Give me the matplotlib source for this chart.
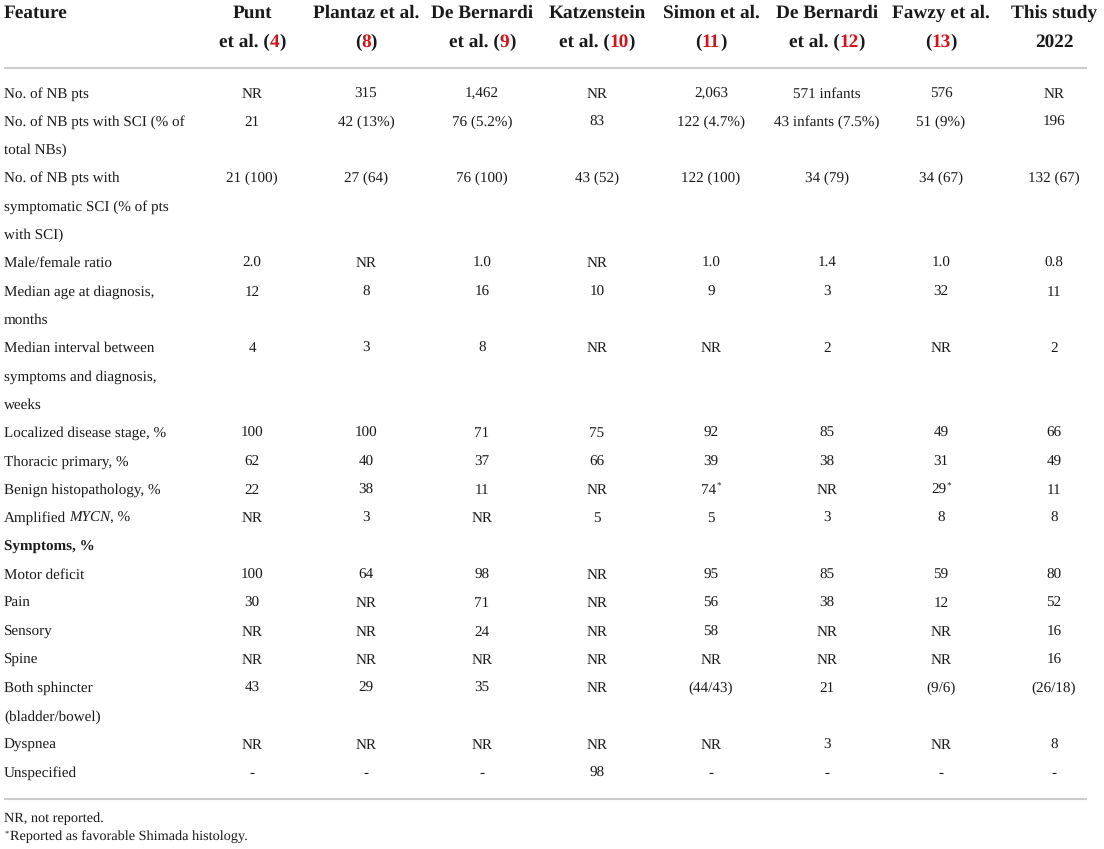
import matplotlib
matplotlib.use("Agg")
import matplotlib.pyplot as plt

plt.rcParams["text.hinting"] = "no_hinting"

# table content
col_heads = [
    ("Punt", "et al. (", "4", ")"),
    ("Plantaz et al.", "(", "8", ")"),
    ("De Bernardi", "et al. (", "9", ")"),
    ("Katzenstein", "et al. (", "10", ")"),
    ("Simon et al.", "(", "11", ")"),
    ("De Bernardi", "et al. (", "12", ")"),
    ("Fawzy et al.", "(", "13", ")"),
    ("This study", "2022", "", ""),
]

# each feature: list of wrapped lines for the first column
features = [
    ["No. of NB pts"],
    ["No. of NB pts with SCI (% of", "total NBs)"],
    ["No. of NB pts with", "symptomatic SCI (% of pts", "with SCI)"],
    ["Male/female ratio"],
    ["Median age at diagnosis,", "months"],
    ["Median interval between", "symptoms and diagnosis,", "weeks"],
    ["Localized disease stage, %"],
    ["Thoracic primary, %"],
    ["Benign histopathology, %"],
    ["Amplified |MYCN|, %"],
    ["#Symptoms, %"],
    ["Motor deficit"],
    ["Pain"],
    ["Sensory"],
    ["Spine"],
    ["Both sphincter", "(bladder/bowel)"],
    ["Dyspnea"],
    ["Unspecified"],
]

punt      = ["NR", "21", "21 (100)", "2.0", "12", "4", "100", "62", "22", "NR", "", "100", "30", "NR", "NR", "43", "NR", "-"]
plantaz   = ["315", "42 (13%)", "27 (64)", "NR", "8", "3", "100", "40", "38", "3", "", "64", "NR", "NR", "NR", "29", "NR", "-"]
debern9   = ["1,462", "76 (5.2%)", "76 (100)", "1.0", "16", "8", "71", "37", "11", "NR", "", "98", "71", "24", "NR", "35", "NR", "-"]
katzen    = ["NR", "83", "43 (52)", "NR", "10", "NR", "75", "66", "NR", "5", "", "NR", "NR", "NR", "NR", "NR", "NR", "98"]
simon     = ["2,063", "122 (4.7%)", "122 (100)", "1.0", "9", "NR", "92", "39", "74*", "5", "", "95", "56", "58", "NR", "(44/43)", "NR", "-"]
debern12  = ["571 infants", "43 infants (7.5%)", "34 (79)", "1.4", "3", "2", "85", "38", "NR", "3", "", "85", "38", "NR", "NR", "21", "3", "-"]
fawzy     = ["576", "51 (9%)", "34 (67)", "1.0", "32", "NR", "49", "31", "29*", "8", "", "59", "12", "NR", "NR", "(9/6)", "NR", "-"]
this_stdy = ["NR", "196", "132 (67)", "0.8", "11", "2", "66", "49", "11", "8", "", "80", "52", "16", "16", "(26/18)", "8", "-"]
columns = [punt, plantaz, debern9, katzen, simon, debern12, fawzy, this_stdy]

foot1 = "NR, not reported."
foot2 = "Reported as favorable Shimada histology."

# layout (pixels)
W, H = 1104, 849
col_x = [252, 366, 482, 597, 711, 827, 941, 1054]
left_x = 4
line_h = 28.33
first_base = 97.5
head_base = [18.5, 47]
body_fs = 10.9
head_fs = 13.9
ink = "#1a1a1a"
red = "#d3131b"
rule_c = "#cccccc"
serif = ["Liberation Serif", "DejaVu Serif"]

fig = plt.figure(figsize=(W / 100, H / 100), dpi=100)
ax = fig.add_axes([0, 0, 1, 1])
ax.set_xlim(0, W)
ax.set_ylim(H, 0)
ax.axis("off")
renderer = fig.canvas.get_renderer()


def width(s, **kw):
    t = ax.text(0, 0, s, family=serif, **kw)
    w = t.get_window_extent(renderer).width
    t.remove()
    return w


def put(x, y, s, **kw):
    kw.setdefault("color", ink)
    return ax.text(x, round(y), s, family=serif, va="baseline", **kw)


def cell(cx, y, s):
    # centered value, with a superscript asterisk if needed
    if s.endswith("*"):
        base = s[:-1]
        wb = width(base, fontsize=body_fs)
        ws = width("*", fontsize=body_fs * 0.6)
        x0 = cx - (wb + ws) / 2
        put(x0, y, base, fontsize=body_fs, ha="left")
        put(x0 + wb + 0.5, y - 5, "*", fontsize=body_fs * 0.6, ha="left")
    else:
        put(cx, y, s, fontsize=body_fs, ha="center")


# header
put(left_x, head_base[0], "Feature", fontsize=head_fs, weight="bold", ha="left")
for cx, (l1, pre, ref, post) in zip(col_x, col_heads):
    put(cx, head_base[0], l1, fontsize=head_fs, weight="bold", ha="center")
    full = pre + ref + post
    wf = width(full, fontsize=head_fs, weight="bold")
    x0 = cx - wf / 2
    put(x0, head_base[1], pre, fontsize=head_fs, weight="bold", ha="left")
    if ref:
        wp = width(pre, fontsize=head_fs, weight="bold")
        put(x0 + wp, head_base[1], ref, fontsize=head_fs, weight="bold",
            ha="left", color=red)
        wr = width(pre + ref, fontsize=head_fs, weight="bold")
        put(x0 + wr, head_base[1], post, fontsize=head_fs, weight="bold", ha="left")

ax.plot([4, 1087], [68, 68], color=rule_c, lw=1.5, solid_capstyle="butt")

# body
line = 0
for i, lines in enumerate(features):
    y0 = first_base + line * line_h
    for j, txt in enumerate(lines):
        y = first_base + (line + j) * line_h
        if txt.startswith("#"):
            put(left_x, y, txt[1:], fontsize=body_fs, weight="bold", ha="left")
        elif "|" in txt:
            a, b, c = txt.split("|")
            put(left_x, y, a.strip(), fontsize=body_fs, ha="left")
            xi = left_x + width(a.strip(), fontsize=body_fs) + 3
            put(xi, y, b, fontsize=body_fs, style="italic", ha="left")
            xc = xi + width(b, fontsize=body_fs, style="italic")
            put(xc, y, c, fontsize=body_fs, ha="left")
        else:
            put(left_x, y, txt, fontsize=body_fs, ha="left")
    for cx, col in zip(col_x, columns):
        if col[i]:
            cell(cx, y0, col[i])
    line += len(lines)

ax.plot([4, 1087], [799, 799], color=rule_c, lw=1.5, solid_capstyle="butt")

# footnotes
put(left_x, 821.5, foot1, fontsize=10.3, ha="left")
put(left_x + 1, 835, "*", fontsize=6, ha="left")
put(left_x + 6, 839.5, foot2, fontsize=10.3, ha="left")

fig.savefig("out.png", dpi=100, facecolor="white")
